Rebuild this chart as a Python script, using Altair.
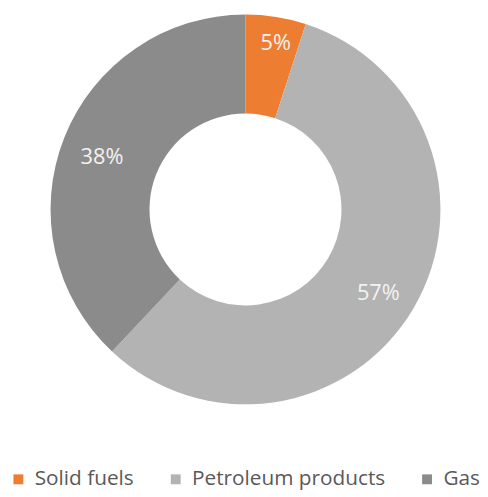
import altair as alt
import pandas as pd

categories = ["Solid fuels", "Petroleum products", "Gas"]
values = [5, 57, 38]
labels = ["5%", "57%", "38%"]
colors = ["#ED7D31", "#B3B3B3", "#8B8B8B"]

df = pd.DataFrame({
    "category": categories,
    "value": values,
    "label": labels,
    "idx": list(range(len(categories))),
})

base = alt.Chart(df).encode(
    theta=alt.Theta("value:Q", stack=True),
    order=alt.Order("idx:Q"),
)

arcs = base.mark_arc(outerRadius=197, innerRadius=97, stroke=None).encode(
    color=alt.Color(
        "category:N",
        sort=categories,
        scale=alt.Scale(domain=categories, range=colors),
        legend=alt.Legend(
            title=None,
            orient="none",
            direction="horizontal",
            legendX=-3,
            legendY=463,
            padding=0,
            symbolType="square",
            symbolSize=100,
            symbolStrokeWidth=0,
            labelFont="Open Sans",
            labelFontSize=21,
            labelColor="#595959",
            labelLimit=0,
            columnPadding=31,
            symbolOffset=0,
            labelOffset=6,
        ),
    )
)

text_big = base.mark_text(radius=156, dy=5, font="Open Sans", fontSize=22, color="#F2F2F2").encode(
    text=alt.condition(alt.datum.idx > 0, "label:N", alt.value(""))
)

text_small = base.mark_text(radius=170, dx=4, font="Open Sans", fontSize=22, color="#F2F2F2").encode(
    text=alt.condition(alt.datum.idx == 0, "label:N", alt.value(""))
)

chart = (arcs + text_big + text_small).properties(
    width=474, height=402, padding=0
).configure_view(stroke=None)

chart.save("out.html", embed_options={"renderer": "svg", "actions": False})
